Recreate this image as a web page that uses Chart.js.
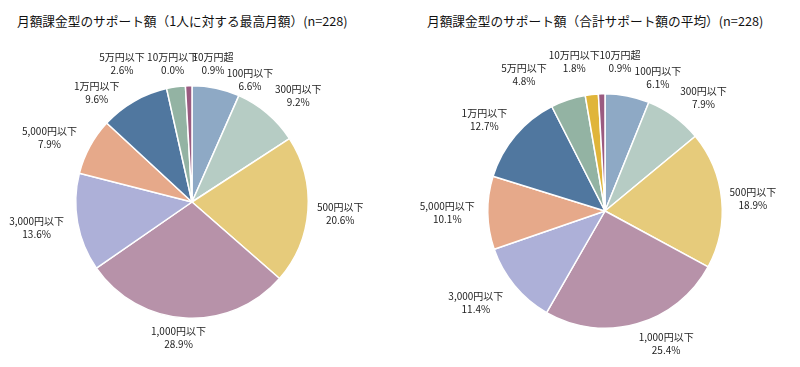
<!DOCTYPE html>
<html>
<head>
<meta charset="utf-8">
<script src="https://cdn.jsdelivr.net/npm/chart.js@4.4.0/dist/chart.umd.min.js"></script>
<style>
  body { margin: 0; background: #fff; width: 800px; height: 367px; position: relative; overflow: hidden; }
  .title { position: absolute; top: 11px; font-family: "Noto Sans CJK JP", sans-serif; font-size: 12.7px; color: #111; white-space: nowrap; }
  canvas { position: absolute; top: 0; }
</style>
</head>
<body>
<div class="title" style="left:17px">月額課金型のサポート額（1人に対する最高月額）(n=228)</div>
<div class="title" style="left:427px">月額課金型のサポート額（合計サポート額の平均）(n=228)</div>
<canvas id="pieMax" width="400" height="367" style="left:0"></canvas>
<canvas id="pieAvg" width="400" height="367" style="left:400px"></canvas>
<script>
// categorias (sentido horario desde arriba)
var categorias = ['100円以下', '300円以下', '500円以下', '1,000円以下', '3,000円以下',
                  '5,000円以下', '1万円以下', '5万円以下', '10万円以下', '10万円超'];

// porcentajes
var maxMensual = [6.6, 9.2, 20.6, 28.9, 13.6, 7.9, 9.6, 2.6, 0.0, 0.9];
var promedioTotal = [6.1, 7.9, 18.9, 25.4, 11.4, 10.1, 12.7, 4.8, 1.8, 0.9];

var colores = ['#8ea9c5', '#b6ccc4', '#e6cb7b', '#b792a9', '#adb0d8',
               '#e6a98a', '#50779f', '#93b3a3', '#e0b53a', '#9a5a80'];

// ajustes de posicion de etiquetas (como hace Excel para evitar solapes)
var ajusteMax = [[28, 9], [12, -4], [3, 2], [-5, 2], [-8, 2], [-11, 0], [-23, 7], [-50, -5], [-11, -4], [25, -4]];
var ajusteProm = [[25, -1], [12, -4], [2, 1], [20, 3], [-13, 5], [-7, 0], [-9, -4], [-35, -8], [-14, -15], [19, -14]];

var etiquetasPlugin = {
  id: 'etiquetas',
  afterDatasetsDraw: function (chart, args, opts) {
    var ctx = chart.ctx;
    var meta = chart.getDatasetMeta(0);
    var valores = chart.data.datasets[0].data;
    ctx.save();
    ctx.font = '10px "Noto Sans CJK JP", sans-serif';
    ctx.fillStyle = '#222';
    ctx.textAlign = 'center';
    ctx.textBaseline = 'middle';
    meta.data.forEach(function (arc, i) {
      var p = arc.getProps(['x', 'y', 'startAngle', 'endAngle', 'outerRadius'], true);
      var mid = (p.startAngle + p.endAngle) / 2;
      var cx = Math.cos(mid), cy = Math.sin(mid);
      var r = p.outerRadius + 6;
      var hw = ctx.measureText(chart.data.labels[i]).width / 2;
      var x = p.x + r * cx + hw * cx + opts.ajuste[i][0];
      var y = p.y + r * cy + 12 * cy + opts.ajuste[i][1];
      ctx.fillText(chart.data.labels[i], x, y - 6.5);
      ctx.fillText(valores[i].toFixed(1) + '%', x, y + 6.5);
    });
    ctx.restore();
  }
};

function crearPie(id, valores, padding, ajuste) {
  var canvas = document.getElementById(id).getContext('2d');
  new Chart(canvas, {
    type: 'pie',
    data: {
      labels: categorias,
      datasets: [{
        data: valores,
        backgroundColor: colores,
        borderColor: '#ffffff',
        borderWidth: 1.5
      }]
    },
    options: {
      responsive: false,
      animation: false,
      layout: { padding: padding },
      plugins: {
        legend: { display: false },
        tooltip: { enabled: false },
        etiquetas: { ajuste: ajuste }
      }
    },
    plugins: [etiquetasPlugin]
  });
}

crearPie('pieMax', maxMensual, { left: 75, right: 91, top: 85, bottom: 48 }, ajusteMax);
crearPie('pieAvg', promedioTotal, { left: 87, right: 77, top: 93, bottom: 38 }, ajusteProm);
</script>
</body>
</html>
